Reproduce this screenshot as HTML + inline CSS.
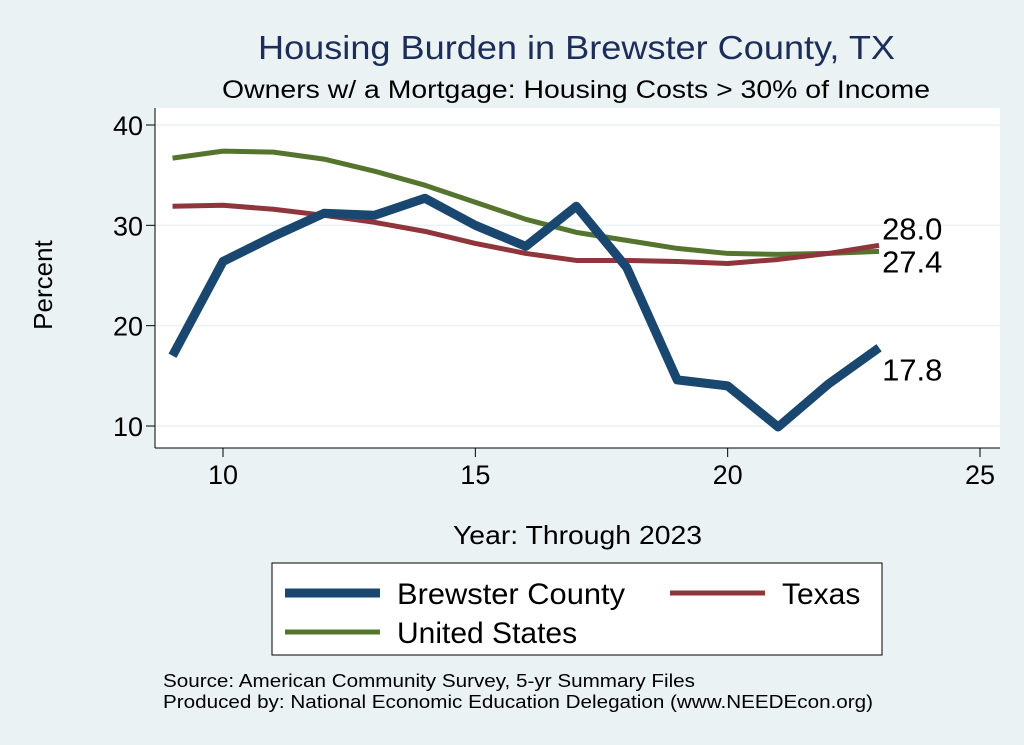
<!DOCTYPE html>
<html><head><meta charset="utf-8">
<style>
body{margin:0;background:#eaf2f3;}
svg{display:block;font-family:"Liberation Sans",sans-serif;}
</style></head>
<body>
<svg id="chart" width="1024" height="745" viewBox="0 0 1024 745">
<rect x="0" y="0" width="1024" height="745" fill="#eaf2f3"/>
<text x="258" y="59" textLength="637" lengthAdjust="spacingAndGlyphs" font-size="33" fill="#1c2d5a">Housing Burden in Brewster County, TX</text>
<text x="222" y="98" textLength="708" lengthAdjust="spacingAndGlyphs" font-size="25" fill="#000">Owners w/ a Mortgage: Housing Costs &gt; 30% of Income</text>
<rect x="155" y="108" width="845" height="340" fill="#fff"/>
<g id="grid"></g>
<g id="axes"></g>
<g id="series"></g>
<text x="52" y="285" text-anchor="middle" font-size="26" transform="rotate(-90 52 285)">Percent</text>
<text x="453" y="544" textLength="249" lengthAdjust="spacingAndGlyphs" font-size="26">Year: Through 2023</text>
<g>
<rect x="272" y="563" width="610" height="92" fill="#fff" stroke="#000" stroke-width="1"/>
<g><line x1="285" y1="593" x2="380" y2="593" stroke="#1a476f" stroke-width="9"/><text x="397" y="604" textLength="228" lengthAdjust="spacingAndGlyphs" font-size="30">Brewster County</text></g>
<g><line x1="670" y1="593" x2="765" y2="593" stroke="#90353b" stroke-width="5"/><text x="782" y="604" font-size="30">Texas</text></g>
<g><line x1="285" y1="632" x2="380" y2="632" stroke="#55752f" stroke-width="5"/><text x="397" y="643" font-size="30">United States</text></g>
</g>
<text x="163" y="687" textLength="532" lengthAdjust="spacingAndGlyphs" font-size="18">Source: American Community Survey, 5-yr Summary Files</text>
<text x="163" y="708" textLength="710" lengthAdjust="spacingAndGlyphs" font-size="18">Produced by: National Economic Education Delegation (www.NEEDEcon.org)</text>
</svg>
<script>
const years=[9,10,11,12,13,14,15,16,17,18,19,20,21,22,23];
const brewster=[17.0,26.4,28.9,31.2,31.0,32.7,30.0,27.9,31.9,25.8,14.6,14.0,9.9,14.2,17.8];
const texas=[31.9,32.0,31.6,31.0,30.3,29.4,28.2,27.2,26.5,26.5,26.4,26.2,26.6,27.2,28.0];
const us=[36.7,37.4,37.3,36.6,35.4,34.0,32.3,30.6,29.3,28.5,27.7,27.2,27.1,27.2,27.4];
const xTicks=[10,15,20,25];
const yTicks=[10,20,30,40];
const NS="http://www.w3.org/2000/svg";
const xs=v=>223+(v-10)*(980-223)/15;
const ys=v=>426-(v-10)*(426-125)/30;
function mk(tag,attrs,parent){const e=document.createElementNS(NS,tag);for(const k in attrs)e.setAttribute(k,attrs[k]);document.getElementById(parent).appendChild(e);return e;}
yTicks.forEach(t=>{
 const g=mk('line',{x1:155,x2:1000,y1:ys(t),y2:ys(t),stroke:'#eaf2f3','stroke-width':1.5},'grid');
 
 
 const tk=mk('line',{x1:146,x2:155,y1:ys(t),y2:ys(t),stroke:'#000','stroke-width':1},'axes');
 
 
 const tx=mk('text',{x:143,y:ys(t)+10,'text-anchor':'end','font-size':27},'axes');
 tx.textContent=t;
 
 
});
xTicks.forEach(t=>{
 const tk=mk('line',{x1:xs(t),x2:xs(t),y1:448,y2:457,stroke:'#000','stroke-width':1},'axes');
 
 
 const tx=mk('text',{x:xs(t),y:484,'text-anchor':'middle','font-size':27},'axes');
 tx.textContent=t;
 
 
});
const ya=mk('line',{x1:155,x2:155,y1:108,y2:448,stroke:'#000','stroke-width':1},'axes');


const xa=mk('line',{x1:155,x2:1000,y1:448,y2:448,stroke:'#000','stroke-width':1},'axes');


function line(vals,color,w,name){
 const p=mk('polyline',{points:vals.map((v,i)=>xs(years[i])+','+ys(v)).join(' '),fill:'none',stroke:color,'stroke-width':w,'stroke-linejoin':'round'},'series');
 
 
}
line(us,'#55752f',5,'line-united-states');
line(texas,'#90353b',5,'line-texas');
line(brewster,'#1a476f',9,'line-brewster-county');
function lab(vals,dy,name){
 const v=vals[vals.length-1];
 const t=mk('text',{x:xs(years[years.length-1])+3,y:ys(v)+dy,'font-size':31},'series');
 t.textContent=v.toFixed(1);
 
 
}
lab(texas,-6,'label-texas-last');
lab(us,21,'label-us-last');
lab(brewster,33,'label-brewster-last');
</script>
</body></html>
